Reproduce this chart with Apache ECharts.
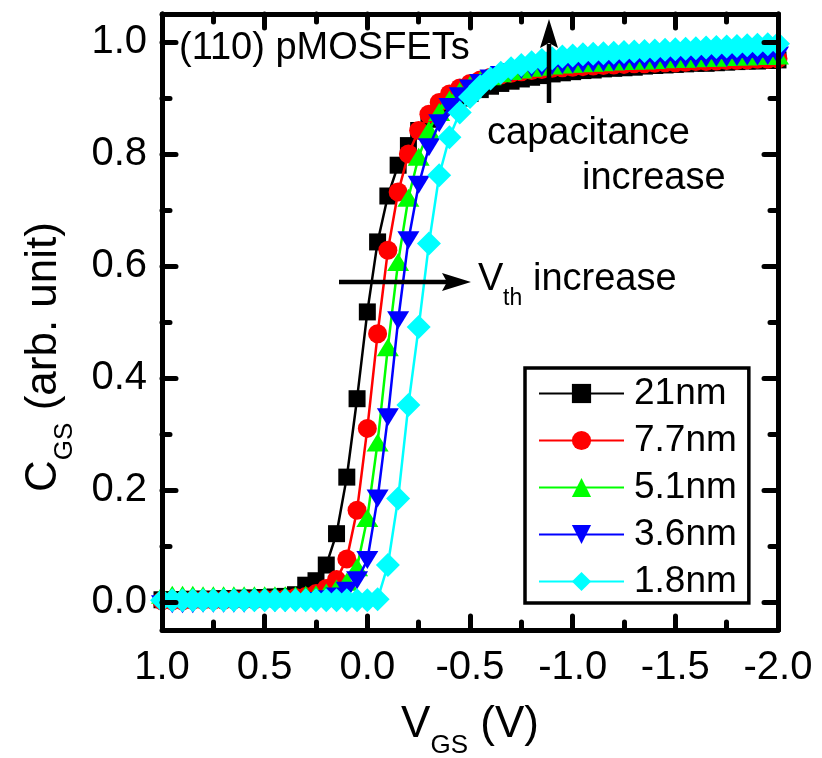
<!DOCTYPE html>
<html><head><meta charset="utf-8">
<script src="https://cdn.jsdelivr.net/npm/echarts@6/dist/echarts.min.js"></script>
<style>html,body{margin:0;padding:0;background:#fff}#c{width:822px;height:758px}</style>
</head><body><div id="c"></div>
<script>
// V_GS grid (V)
const VGS = [1.00,0.95,0.90,0.85,0.80,0.75,0.70,0.65,0.60,0.55,
  0.50,0.45,0.40,0.35,0.30,0.25,0.20,0.15,0.10,0.05,
  0.00,-0.05,-0.10,-0.15,-0.20,-0.25,-0.30,-0.35,-0.40,-0.45,
  -0.50,-0.55,-0.60,-0.65,-0.70,-0.75,-0.80,-0.85,-0.90,-0.95,
  -1.00,-1.05,-1.10,-1.15,-1.20,-1.25,-1.30,-1.35,-1.40,-1.45,
  -1.50,-1.55,-1.60,-1.65,-1.70,-1.75,-1.80,-1.85,-1.90,-1.95,
  -2.00];
// C_GS (arb. unit)
const C_21 = [0.004,0.004,0.004,0.005,0.005,0.005,0.006,0.006,0.007,0.007,
  0.008,0.009,0.010,0.013,0.030,0.038,0.066,0.122,0.223,0.363,
  0.518,0.643,0.725,0.780,0.815,0.842,0.862,0.878,0.890,0.900,
  0.908,0.915,0.921,0.926,0.930,0.934,0.937,0.940,0.943,0.945,
  0.947,0.949,0.950,0.952,0.953,0.954,0.955,0.957,0.958,0.959,
  0.960,0.961,0.962,0.962,0.963,0.964,0.965,0.966,0.966,0.967,
  0.968];
const C_77 = [0.002,0.002,0.002,0.003,0.003,0.003,0.003,0.004,0.004,0.004,
  0.005,0.005,0.006,0.008,0.010,0.015,0.024,0.040,0.077,0.164,
  0.310,0.479,0.628,0.732,0.800,0.842,0.871,0.892,0.907,0.918,
  0.926,0.932,0.937,0.941,0.944,0.947,0.949,0.951,0.953,0.954,
  0.955,0.956,0.957,0.958,0.959,0.960,0.961,0.961,0.962,0.963,
  0.963,0.964,0.965,0.965,0.966,0.967,0.967,0.968,0.969,0.969,
  0.970];
const C_51 = [0.013,0.013,0.013,0.013,0.012,0.012,0.012,0.012,0.012,0.012,
  0.012,0.012,0.012,0.012,0.013,0.014,0.017,0.024,0.036,0.062,
  0.150,0.285,0.455,0.607,0.722,0.795,0.843,0.875,0.897,0.912,
  0.923,0.932,0.939,0.944,0.948,0.951,0.954,0.956,0.958,0.960,
  0.961,0.962,0.963,0.964,0.965,0.966,0.967,0.967,0.968,0.969,
  0.970,0.970,0.971,0.972,0.972,0.973,0.974,0.974,0.975,0.975,
  0.976];
const C_36 = [-0.004,-0.004,-0.004,-0.004,-0.003,-0.003,-0.003,-0.003,-0.003,-0.002,
  -0.002,-0.002,-0.002,-0.001,0.000,0.002,0.005,0.010,0.020,0.039,
  0.075,0.185,0.330,0.503,0.646,0.745,0.812,0.855,0.884,0.903,
  0.917,0.927,0.935,0.941,0.946,0.950,0.953,0.955,0.957,0.959,
  0.960,0.961,0.962,0.963,0.964,0.965,0.966,0.967,0.967,0.968,
  0.969,0.970,0.970,0.971,0.972,0.972,0.973,0.974,0.974,0.975,
  0.976];
const C_18 = [0.003,0.003,0.003,0.003,0.003,0.003,0.003,0.003,0.003,0.003,
  0.003,0.003,0.003,0.003,0.003,0.003,0.003,0.003,0.003,0.003,
  0.003,0.005,0.066,0.185,0.352,0.491,0.640,0.762,0.830,0.874,
  0.902,0.921,0.935,0.945,0.953,0.959,0.964,0.968,0.971,0.974,
  0.976,0.978,0.979,0.980,0.981,0.982,0.983,0.984,0.985,0.986,
  0.987,0.988,0.989,0.990,0.991,0.992,0.993,0.994,0.995,0.996,
  0.997];
const SERIES_NAMES = ['21nm','7.7nm','5.1nm','3.6nm','1.8nm'];
const Y_MAJOR = [0,0.2,0.4,0.6,0.8,1.0];
const Y_MINOR = [0.1,0.3,0.5,0.7,0.9];

const VALUES = [C_21, C_77, C_51, C_36, C_18];
const COLORS = ['#000000','#ff0000','#00ff00','#0000ff','#00ffff'];
const SYMBOLS = ['rect','circle','triangle','triangle','diamond'];
const SIZES = [[17,17],19,[22,18],[22,18],[24,24]];
const ROTS = [0,0,0,180,0];
const FONT = '"Liberation Sans", Arial, sans-serif';
const tickLS = {color:'#000', width:5, cap:'round'};
const fmt = v => (Math.abs(v) < 1e-9 ? 0 : v).toFixed(1);

const chart = echarts.init(document.getElementById('c'), null, {renderer:'canvas'});

const richName = {
  a:{fontSize:44, fontFamily:FONT, color:'#000', lineHeight:50, verticalAlign:'top'},
  b:{fontSize:26, fontFamily:FONT, color:'#000', lineHeight:26, padding:[30,0,0,0], verticalAlign:'top'},
  p:{fontSize:10, width:70}
};

function yAxisDef(pos, major) {
  return {
    type:'value', min:-0.05, max:1.05, position:pos, z:10,
    axisLine:{show:major, onZero:false, lineStyle:{color:'#000', width:5}},
    axisTick:{show:true, inside:true, length: major ? 14 : 8, customValues: major ? Y_MAJOR : Y_MINOR, lineStyle:tickLS},
    axisLabel:{show:false},
    splitLine:{show:false}
  };
}
const yLeft = yAxisDef('left', true);
yLeft.axisLabel = {show:true, customValues:Y_MAJOR, formatter:fmt, margin:15, fontSize:40, fontFamily:FONT, color:'#000'};
yLeft.name = '{a|C}{b|GS}{a| (arb. unit)}{p| }';
yLeft.nameLocation = 'middle';
yLeft.nameRotate = 90;
yLeft.nameGap = 90;
yLeft.nameTextStyle = {rich:richName};

function xAxisDef(pos) {
  return {
    type:'value', min:-2, max:1, interval:0.5, inverse:true, position:pos, z:10,
    axisLine:{show:true, onZero:false, lineStyle:{color:'#000', width:5}},
    axisTick:{show:true, inside:true, length:14, lineStyle:tickLS},
    minorTick:{show:true, splitNumber:2, length:8, lineStyle:tickLS},
    axisLabel:{show:false},
    splitLine:{show:false}, minorSplitLine:{show:false}
  };
}
const xBottom = xAxisDef('bottom');
xBottom.axisLabel = {show:true, formatter:fmt, margin:18, fontSize:40, fontFamily:FONT, color:'#000'};
xBottom.name = '{a|V}{b|GS}{a| (V)}';
xBottom.nameLocation = 'middle';
xBottom.nameGap = 73;
xBottom.nameTextStyle = {rich:richName};

const series = SERIES_NAMES.map((n, k) => ({
  name:n, type:'line', xAxisIndex:0, yAxisIndex:0, z:3+k,
  data: VGS.map((x, i) => [x, VALUES[k][i]]),
  symbol:SYMBOLS[k], symbolSize:SIZES[k], symbolRotate:ROTS[k],
  showSymbol:true, showAllSymbol:true, clip:false,
  lineStyle:{color:COLORS[k], width:2.5},
  itemStyle:{color:COLORS[k], opacity:1},
  emphasis:{disabled:true}
}));

const TF = '38px ' + FONT;
chart.setOption({
  animation:false,
  backgroundColor:'#fff',
  grid:{left:162, right:44, top:14, bottom:128, containLabel:false, outerBoundsMode:'none'},
  xAxis:[xBottom, xAxisDef('top')],
  yAxis:[yLeft, yAxisDef('left', false), yAxisDef('right', true), yAxisDef('right', false)],
  legend:{
    orient:'vertical', left:525, top:368, z:20,
    data:SERIES_NAMES,
    itemWidth:85, itemHeight:24, itemGap:10,
    padding:[7,12,3,13],
    borderColor:'#000', borderWidth:3.5, backgroundColor:'#fff',
    textStyle:{fontSize:37, fontFamily:FONT, color:'#000', lineHeight:36, padding:[0,0,0,5]},
    selectedMode:false
  },
  series: series,
  graphic:[
    {type:'text', x:179, y:49, z:30, style:{text:'(110) pMOSFETs', font:TF, fill:'#000', verticalAlign:'middle'}},
    {type:'text', x:487, y:134, z:30, style:{text:'capacitance', font:TF, fill:'#000', verticalAlign:'middle'}},
    {type:'text', x:582, y:179, z:30, style:{text:'increase', font:TF, fill:'#000', verticalAlign:'middle'}},
    {type:'text', x:478, y:280, z:30, style:{text:'V', font:TF, fill:'#000', verticalAlign:'middle'}},
    {type:'text', x:503, y:299, z:30, style:{text:'th', font:'23px ' + FONT, fill:'#000', verticalAlign:'middle'}},
    {type:'text', x:533, y:280, z:30, style:{text:'increase', font:TF, fill:'#000', verticalAlign:'middle'}},
    {type:'line', z:30, shape:{x1:339, y1:282, x2:448, y2:282}, style:{stroke:'#000', lineWidth:4.5}},
    {type:'polygon', z:30, shape:{points:[[471,282],[442,273],[447,282],[442,291]]}, style:{fill:'#000'}},
    {type:'line', z:30, shape:{x1:549, y1:103, x2:549, y2:44}, style:{stroke:'#000', lineWidth:4.5}},
    {type:'polygon', z:30, shape:{points:[[549,19],[540,48],[549,43],[558,48]]}, style:{fill:'#000'}}
  ]
});
</script>
</body></html>
